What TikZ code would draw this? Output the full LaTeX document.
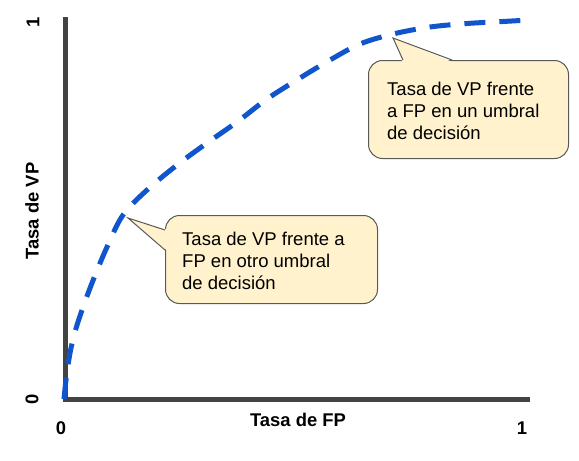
\documentclass[tikz,border=0pt]{standalone}
\usepackage{fontspec}
\setmainfont{Liberation Sans}
\definecolor{axisgray}{HTML}{434343}
\definecolor{curveblue}{HTML}{1155CC}
\definecolor{callfill}{HTML}{FFF2CC}
\definecolor{callline}{HTML}{595959}
\begin{document}
\begin{tikzpicture}[x=1pt,y=-1pt,
 axis/.style={line width=5pt, draw=axisgray},
 axlabel/.style={font=\fontsize{18.4}{22}\selectfont\bfseries, inner sep=0pt},
 roc/.style={line width=5pt, draw=curveblue, dash pattern=on 21pt off 14pt},
 callbox/.style={draw=callline, fill=callfill, line width=1pt, rounded corners=14pt, inner sep=0pt, anchor=north west},
 callptr/.style={draw=callline, line width=1pt, line join=miter},
 calltext/.style={font=\fontsize{18.5}{22}\selectfont, align=left, inner sep=0pt, anchor=north west},
]
\useasboundingbox (0,0) rectangle (579,461);
% axes
\coordinate (ytop) at (65,17);
\coordinate (origin) at (65,399);
\coordinate (xend) at (530,399);
\draw[axis] (ytop) -- (origin) -- (xend);
% ROC curve
\draw[roc] plot[smooth, tension=0.55] coordinates {(64,399) (66,380) (70,353) (75,332) (81,313) (92,283) (107,247) (123,215) (147,190) (177,165) (207,143) (237,122) (267,99) (300,78) (330,60) (360,44) (393,34) (430,27) (467,23.5) (503,21.5) (529,20)};
% callout 1
\node[callbox, minimum width=200pt, minimum height=98pt] (box1) at (368,60) {};
\coordinate (tip1) at (393,38);
\coordinate (b1l) at (403,60);
\coordinate (b1r) at (452,60);
\fill[callfill] (tip1) -- (402.5,62) -- (452.5,62) -- cycle;
\draw[callptr] (b1l) -- (tip1) -- (b1r);
\node[calltext] (t1) at (387,81.5) {Tasa de VP frente\\a FP en un umbral\\de decisión};
% callout 2
\node[callbox, minimum width=212pt, minimum height=88pt] (box2) at (165,215) {};
\coordinate (tip2) at (128,218);
\coordinate (b2t) at (165,230);
\coordinate (b2b) at (165,250);
\fill[callfill] (tip2) -- (167,229.5) -- (167,250.5) -- cycle;
\draw[callptr] (b2t) -- (tip2) -- (b2b);
\node[calltext] (t2) at (182,231.5) {Tasa de VP frente a\\FP en otro umbral\\de decisión};
% labels
\node[axlabel] (xlab) at (298,420) {Tasa de FP};
\node[axlabel] (x0) at (61,428) {0};
\node[axlabel] (x1) at (522,428) {1};
\node[axlabel, rotate=90] (ylab) at (32,211) {Tasa de VP};
\node[axlabel, rotate=90] (y0) at (32,399) {0};
\node[axlabel, rotate=90] (y1) at (33,22) {1};
\end{tikzpicture}
\end{document}
